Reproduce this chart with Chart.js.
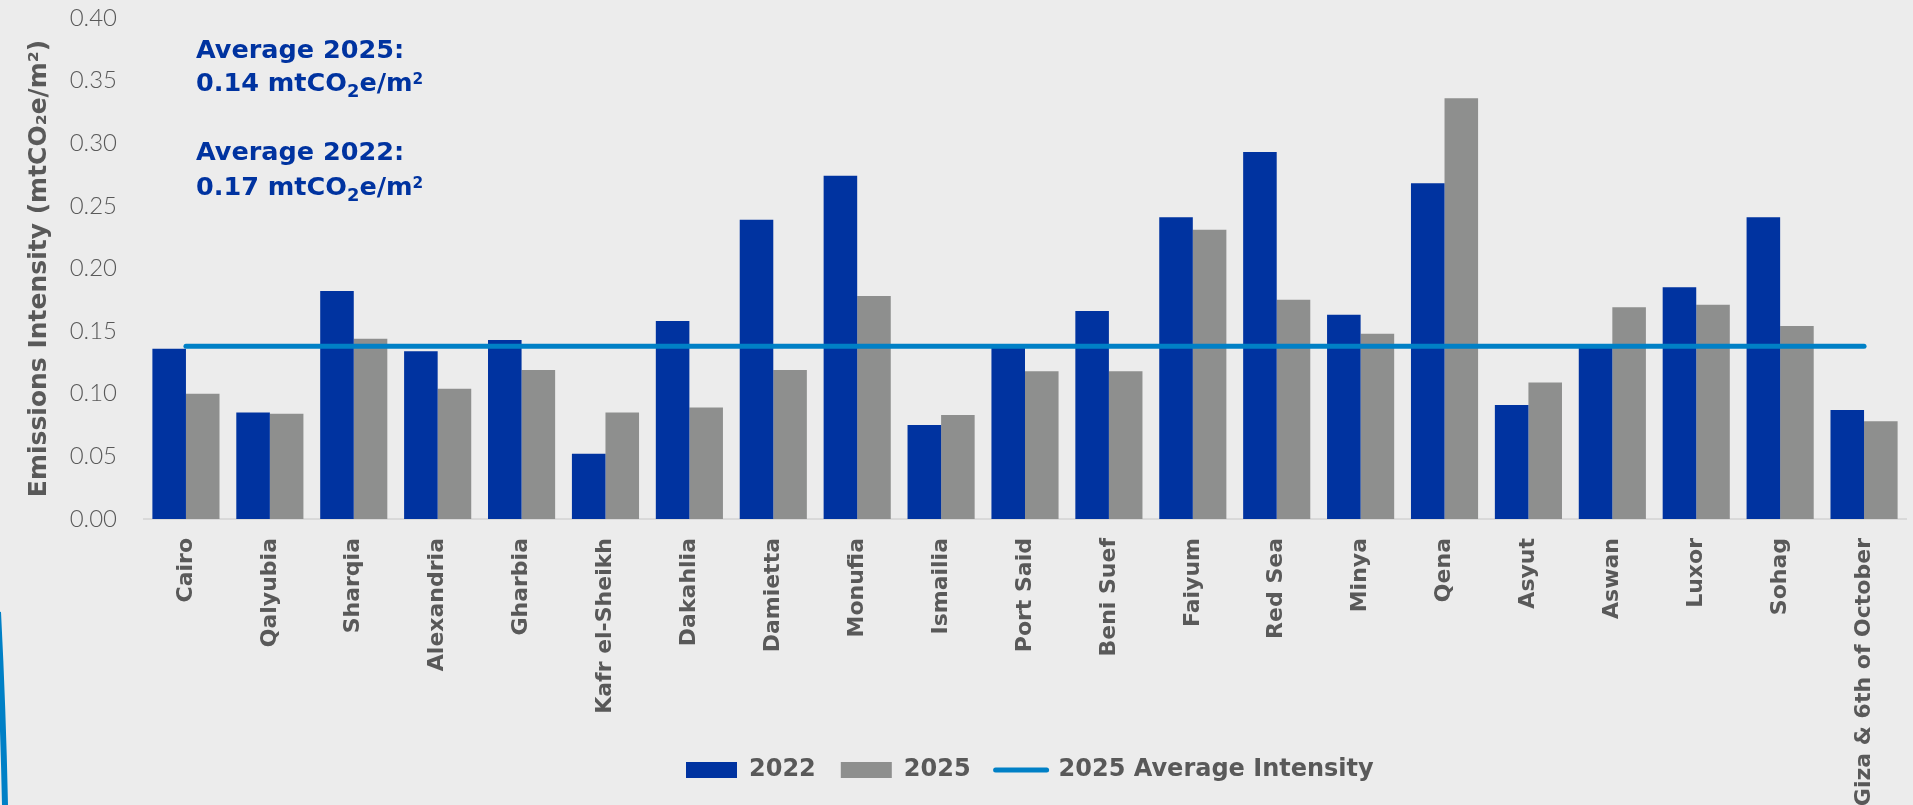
<!DOCTYPE html>
<html>
<head>
<meta charset="utf-8">
<script src="https://cdn.jsdelivr.net/npm/chart.js@4.4.1/dist/chart.umd.min.js"></script>
<style>
html,body{margin:0;padding:0;background:#ECECEC;}
#wrap{position:relative;width:1913px;height:805px;overflow:hidden;background:#ECECEC;}
#c{position:absolute;left:0;top:0;}
.note{position:absolute;left:196px;font-family:'DejaVu Sans',sans-serif;font-weight:700;color:#0033A0;font-size:25.5px;line-height:1;white-space:nowrap;}
.note sub{font-size:0.7em;vertical-align:-6px;line-height:0;}
.note sup{font-size:0.6em;vertical-align:7px;line-height:0;}
#deco{position:absolute;left:0;top:0;}
</style>
</head>
<body>
<div id="wrap">
<canvas id="c" width="1913" height="805"></canvas>
<div class="note" style="top:36.5px">Average 2025:</div>
<div class="note" style="top:70px">0.14 mtCO<sub>2</sub>e/m<sup>2</sup></div>
<div class="note" style="top:138.5px">Average 2022:</div>
<div class="note" style="top:173.5px">0.17 mtCO<sub>2</sub>e/m<sup>2</sup></div>
<svg id="deco" width="30" height="805"><path d="M-2,612 Q3,710 5,805" fill="none" stroke="#0080C6" stroke-width="6"/></svg>
</div>
<script>
const categories = ['Cairo','Qalyubia','Sharqia','Alexandria','Gharbia','Kafr el-Sheikh','Dakahlia','Damietta','Monufia','Ismailia','Port Said','Beni Suef','Faiyum','Red Sea','Minya','Qena','Asyut','Aswan','Luxor','Sohag','Giza & 6th of October'];
const intensity2022 = [0.136,0.085,0.182,0.134,0.143,0.052,0.158,0.239,0.274,0.075,0.139,0.166,0.241,0.293,0.163,0.268,0.091,0.139,0.185,0.241,0.087];
const intensity2025 = [0.100,0.084,0.144,0.104,0.119,0.085,0.089,0.119,0.178,0.083,0.118,0.118,0.231,0.175,0.148,0.336,0.109,0.169,0.171,0.154,0.078];
const averageIntensity2025 = [0.138,0.138,0.138,0.138,0.138,0.138,0.138,0.138,0.138,0.138,0.138,0.138,0.138,0.138,0.138,0.138,0.138,0.138,0.138,0.138,0.138];
const yTicks = [0,0.05,0.10,0.15,0.20,0.25,0.30,0.35,0.40];
const legendLabels = ['2022','2025','2025 Average Intensity'];
const yTitle = 'Emissions Intensity (mtCO\u2082e/m\u00B2)';

const BLUE = '#0033A0', GRAY = '#8E8F8E', LINE = '#0080C6', TEXT = '#595959';
const FONT = "'DejaVu Sans', sans-serif";

const legendShift = {
  id: 'legendShift',
  afterLayout(chart) {
    const lg = chart.legend;
    if (!lg || !lg.lineWidths) return;
    const pad = lg.options.labels.padding;
    const start = (lg.left + pad + lg.right - lg.lineWidths[0]) / 2;
    const d = 686 - start;
    lg.left += d; lg.right += d;
  }
};

new Chart(document.getElementById('c'), {
  type: 'bar',
  data: {
    labels: categories,
    datasets: [
      {type:'line', label: legendLabels[2], data: averageIntensity2025, borderColor: LINE, backgroundColor: LINE, borderWidth: 5, borderCapStyle: 'round', pointRadius: 0, order: 0},
      {label: legendLabels[0], data: intensity2022, backgroundColor: BLUE, borderWidth: 0, barPercentage: 1, categoryPercentage: 0.8, order: 1},
      {label: legendLabels[1], data: intensity2025, backgroundColor: GRAY, borderWidth: 0, barPercentage: 1, categoryPercentage: 0.8, order: 2}
    ]
  },
  options: {
    responsive: false,
    animation: false,
    layout: {padding: {top: 18, left: 0, right: 7, bottom: 13}},
    plugins: {
      tooltip: {enabled: false},
      legend: {
        position: 'bottom',
        labels: {
          usePointStyle: true, pointStyleWidth: 51, boxHeight: 16, padding: 25,
          color: TEXT, font: {family: FONT, size: 24, weight: 'bold'},
          generateLabels: () => [
            {text: legendLabels[0], fillStyle: BLUE, strokeStyle: BLUE, lineWidth: 0, pointStyle: 'rect', fontColor: TEXT, datasetIndex: 1},
            {text: legendLabels[1], fillStyle: GRAY, strokeStyle: GRAY, lineWidth: 0, pointStyle: 'rect', fontColor: TEXT, datasetIndex: 2},
            {text: legendLabels[2], fillStyle: 'rgba(0,0,0,0)', strokeStyle: LINE, lineWidth: 5, lineCap: 'round', pointStyle: 'line', fontColor: TEXT, datasetIndex: 0}
          ]
        }
      }
    },
    scales: {
      x: {
        grid: {display: false, drawTicks: false},
        border: {display: true, color: '#D9D9D9', width: 2},
        ticks: {autoSkip: false, maxRotation: 90, minRotation: 90, padding: 19, color: TEXT, font: {family: FONT, size: 22, weight: 'bold'}},
        afterFit(s) {
          s.height = 214; s.paddingLeft = 0; s.paddingRight = 0;
          s._computeLabelArea = function() { return {top: this.top, left: 0, bottom: this.chart.height, right: this.chart.width}; };
        }
      },
      y: {
        min: 0, max: 0.4,
        grid: {display: false, drawTicks: false},
        border: {display: false},
        afterBuildTicks(s) { s.ticks = yTicks.map(v => ({value: v})); },
        ticks: {padding: 27, color: TEXT, font: {family: 'Lato', size: 24, weight: 300}, callback: v => Number(v).toFixed(2)},
        title: {display: true, text: yTitle, color: TEXT, font: {family: FONT, size: 25, weight: 'bold'}, padding: {top: 24, bottom: 0}},
        afterFit(s) { s.width = 144; s.paddingTop = 0; s.paddingBottom = 0; }
      }
    }
  },
  plugins: [legendShift]
});
</script>
</body>
</html>
